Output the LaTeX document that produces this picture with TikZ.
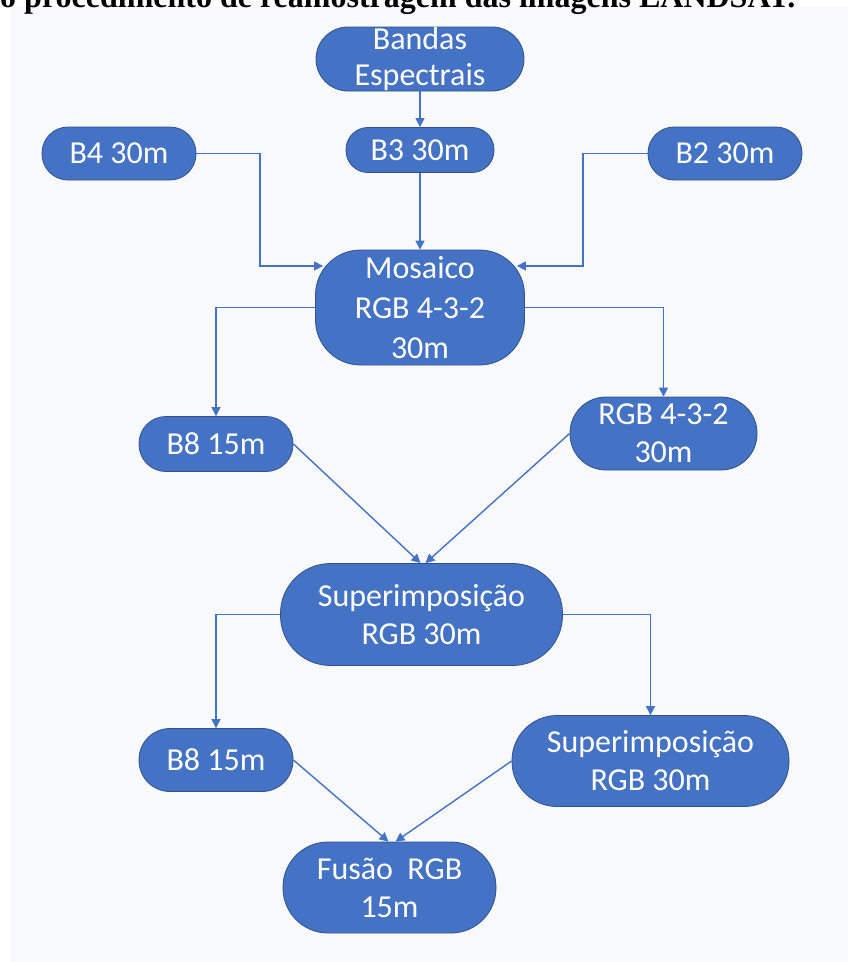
\documentclass[tikz,border=0pt]{standalone}
\usepackage{fontspec}
\usepackage{graphicx}
\setmainfont{Carlito}
\newfontfamily\titlefont{Liberation Serif}
\usetikzlibrary{arrows.meta}
\definecolor{nodeblue}{HTML}{4472C4}
\definecolor{nodeedge}{HTML}{2F528F}
\definecolor{linkblue}{HTML}{4472C4}
\definecolor{panel}{HTML}{F8F9FB}
\begin{document}
\begin{tikzpicture}[x=1pt,y=-1pt,
  box/.style={draw=nodeedge, line width=0.8pt, fill=nodeblue, text=white,
    inner sep=0pt, align=center, font=\fontsize{32}{38}\selectfont},
  arr/.style={draw=linkblue, line width=1.4pt, -{Triangle[length=9pt,width=9pt]}}]
\useasboundingbox (0,0) rectangle (848,962);
\fill[panel] (11,7) rectangle (848,962);
\node[anchor=base west, inner sep=0pt] (title) at (0,7)
  {\resizebox{795pt}{!}{\titlefont\bfseries o procedimento de reamostragem das imagens LANDSAT.}};

\node[box, minimum width=208pt, minimum height=64pt, rounded corners=32pt] (bandas) at (420,59) {Bandas\\[-2pt]Espectrais};
\node[box, minimum width=148pt, minimum height=45pt, rounded corners=22pt] (b3) at (420,150) {B3 30m};
\node[box, minimum width=154pt, minimum height=53pt, rounded corners=26pt] (b4) at (119,153.5) {B4 30m};
\node[box, minimum width=154pt, minimum height=53pt, rounded corners=26pt] (b2) at (725,153.5) {B2 30m};
\node[box, minimum width=209pt, minimum height=115pt, rounded corners=45pt] (mos) at (420,307.5) {Mosaico\\[2pt]RGB 4-3-2\\[2pt]30m};
\node[box, minimum width=154pt, minimum height=55pt, rounded corners=27pt] (b8a) at (216,444) {B8 15m};
\node[box, minimum width=187pt, minimum height=73pt, rounded corners=36pt] (rgb) at (663.5,433.5) {RGB 4-3-2\\30m};
\node[box, minimum width=282pt, minimum height=102pt, rounded corners=50pt] (sup1) at (421.5,614.5) {Superimposição\\RGB 30m};
\node[box, minimum width=154pt, minimum height=63pt, rounded corners=31pt] (b8b) at (216,760) {B8 15m};
\node[box, minimum width=277pt, minimum height=91pt, rounded corners=45pt] (sup2) at (650.5,761) {Superimposição\\RGB 30m};
\node[box, minimum width=213pt, minimum height=91pt, rounded corners=45pt] (fus) at (389.5,887.5) {Fusão~ RGB\\15m};

\coordinate (cl) at (260,266);
\coordinate (cr) at (583,266);

\draw[arr] (bandas.south) -- (b3.north);
\draw[arr] (b3.south) -- (mos.north);
\draw[arr, shorten >=-8pt] (b4.east) -| (cl) -- (cl -| mos.west);
\draw[arr, shorten >=-8pt] (b2.west) -| (cr) -- (cr -| mos.east);
\draw[arr] (mos.west) -| (b8a.north);
\draw[arr] (mos.east) -| (rgb.north);
\draw[arr] (b8a.east) -- ([xshift=-1pt]sup1.north);
\draw[arr] (rgb.west) -- ([xshift=4pt]sup1.north);
\draw[arr] (sup1.west) -| (b8b.north);
\draw[arr] (sup1.east) -| (sup2.north);
\draw[arr] (b8b.east) -- ([xshift=-1pt]fus.north);
\draw[arr] (sup2.west) -- ([xshift=6pt]fus.north);
\end{tikzpicture}
\end{document}
